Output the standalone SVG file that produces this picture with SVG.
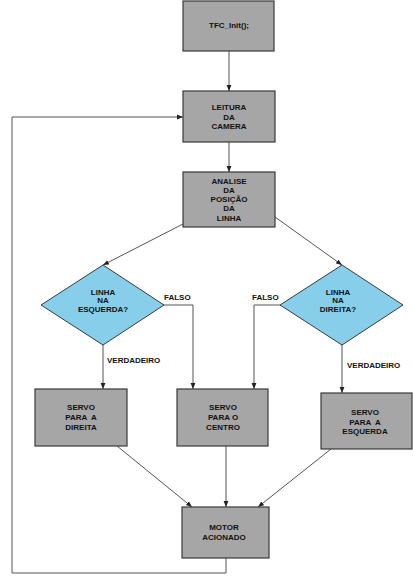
<svg xmlns="http://www.w3.org/2000/svg" width="413" height="584" viewBox="0 0 413 584">
<style>
.box{fill:#a6a6a6;stroke:#3a3a3a;stroke-width:1.2}
.dia{fill:#87ceeb;stroke:#3a3a3a;stroke-width:1}
.t{font-family:"Liberation Sans",Arial,sans-serif;font-size:8px;font-weight:bold;fill:#111;text-anchor:middle}
.l{font-family:"Liberation Sans",Arial,sans-serif;font-size:8px;font-weight:bold;fill:#111}
.c{fill:none;stroke:#555;stroke-width:1}
</style>
<defs>
<marker id="a" viewBox="0 0 10 10" refX="10" refY="5" markerWidth="6" markerHeight="6" orient="auto" markerUnits="userSpaceOnUse">
<path d="M0,1 L10,5 L0,9 z" fill="#222"/>
</marker>
</defs>
<rect width="413" height="584" fill="#fff"/>
<g id="connectors">
<path class="c" d="M229,51 V91" marker-end="url(#a)"/>
<path class="c" d="M229,142 V172" marker-end="url(#a)"/>
<path class="c" d="M183,224 L103,265" marker-end="url(#a)"/>
<path class="c" d="M275,217 L342,265" marker-end="url(#a)"/>
<path class="c" d="M163,305 H193 V389" marker-end="url(#a)"/>
<path class="c" d="M280,305 H254 V389" marker-end="url(#a)"/>
<path class="c" d="M103,344 V389" marker-end="url(#a)"/>
<path class="c" d="M342,344 V393" marker-end="url(#a)"/>
<path class="c" d="M117,446 L192,507" marker-end="url(#a)"/>
<path class="c" d="M226,446 V507" marker-end="url(#a)"/>
<path class="c" d="M331,449 L258,507" marker-end="url(#a)"/>
<path class="c" d="M226,558 V573 H12 V117 H183" marker-end="url(#a)"/>
</g>
<g id="labels">
<text class="l" x="164" y="300">FALSO</text>
<text class="l" x="252" y="300">FALSO</text>
<text class="l" x="107" y="363">VERDADEIRO</text>
<text class="l" x="347" y="368">VERDADEIRO</text>
</g>
<g id="init"><rect class="box" x="183" y="1" width="91" height="50"/><text class="t" x="229" y="28">TFC_Init();</text></g>
<g id="leitura"><rect class="box" x="183" y="91" width="92" height="51"/><text class="t" x="229" y="110">LEITURA</text><text class="t" x="229" y="120">DA</text><text class="t" x="229" y="129">CAMERA</text></g>
<g id="analise"><rect class="box" x="183" y="172" width="92" height="55"/><text class="t" x="229" y="184">ANALISE</text><text class="t" x="229" y="193">DA</text><text class="t" x="229" y="202">POSIÇÃO</text><text class="t" x="229" y="211">DA</text><text class="t" x="229" y="221">LINHA</text></g>
<g id="esquerda"><polygon class="dia" points="103,265 164,305 103,345 41,305"/><text class="t" x="103" y="295">LINHA</text><text class="t" x="103" y="303">NA</text><text class="t" x="103" y="312">ESQUERDA?</text></g>
<g id="direita"><polygon class="dia" points="342,265 403,305 342,345 280,305"/><text class="t" x="338" y="295">LINHA</text><text class="t" x="338" y="303">NA</text><text class="t" x="338" y="312">DIREITA?</text></g>
<g id="servo-direita"><rect class="box" x="35" y="389" width="92" height="57"/><text class="t" x="81" y="410">SERVO</text><text class="t" x="81" y="420" xml:space="preserve">PARA  A</text><text class="t" x="81" y="430">DIREITA</text></g>
<g id="servo-centro"><rect class="box" x="177" y="389" width="91" height="57"/><text class="t" x="223" y="410">SERVO</text><text class="t" x="223" y="420">PARA O</text><text class="t" x="223" y="430">CENTRO</text></g>
<g id="servo-esquerda"><rect class="box" x="321" y="393" width="91" height="56"/><text class="t" x="365" y="415">SERVO</text><text class="t" x="365" y="425" xml:space="preserve">PARA  A</text><text class="t" x="365" y="434">ESQUERDA</text></g>
<g id="motor"><rect class="box" x="182" y="507" width="87" height="51"/><text class="t" x="224" y="530">MOTOR</text><text class="t" x="224" y="540">ACIONADO</text></g>
</svg>
